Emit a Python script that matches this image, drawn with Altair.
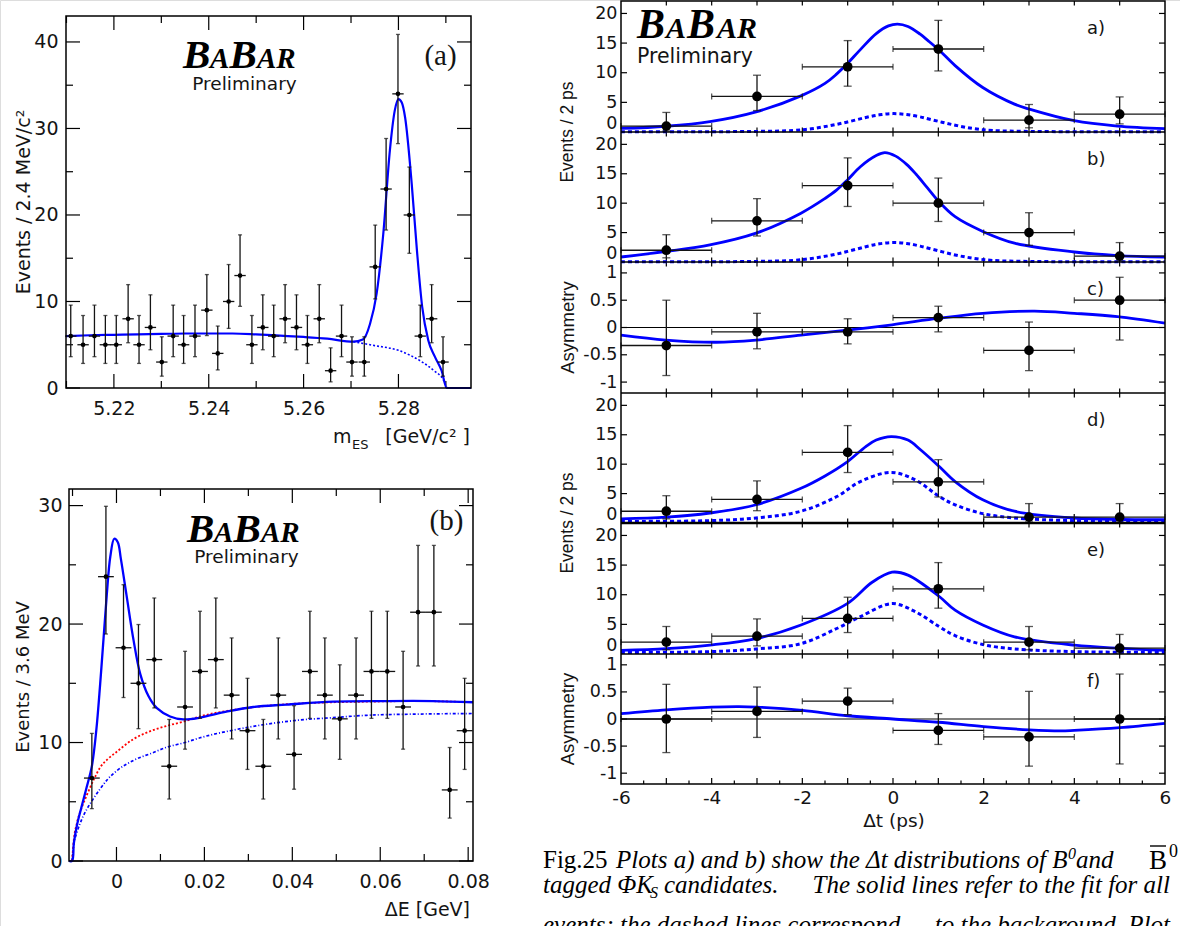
import altair as alt
import pandas as pd

SANS = "DejaVu Sans"
ARIAL = "Liberation Sans"
SERIF = "Liberation Serif"
BLUE = "#0000ff"
RED = "#ff0000"
INK = "#141414"

# ---------------- (a) m_ES distribution ----------------
mes_x = [5.2109, 5.2135, 5.2159, 5.2182, 5.2205, 5.2230, 5.2253, 5.2277, 5.2301, 5.2325,
         5.2347, 5.2371, 5.2396, 5.2419, 5.2442, 5.2466, 5.2491, 5.2514, 5.2537, 5.2561,
         5.2585, 5.2608, 5.2633, 5.2657, 5.2680, 5.2702, 5.2728, 5.2751, 5.2774, 5.2799,
         5.2823, 5.2846, 5.2870, 5.2894]
mes_n = [6, 5, 6, 5, 5, 8, 5, 7, 3, 6, 5, 6, 9, 4, 10, 13, 5, 7, 6, 8,
         7, 5, 8, 2, 6, 3, 3, 14, 23, 34, 20, 6, 8, 3]
mes_half = 0.0012
mes_fit_x = [5.2099, 5.215, 5.22, 5.225, 5.23, 5.235, 5.24, 5.245, 5.25, 5.255,
             5.26, 5.265, 5.2705, 5.2725, 5.274, 5.2754, 5.2768, 5.2782, 5.2792, 5.2800,
             5.2807, 5.2814, 5.2828, 5.2839, 5.285, 5.2863, 5.2877, 5.2891, 5.2902, 5.2953]
mes_fit_y = [6.0, 6.1, 6.15, 6.2, 6.25, 6.3, 6.3, 6.3, 6.2, 6.05,
             5.9, 5.7, 5.35, 5.6, 7.4, 10.9, 17.8, 27.5, 32.0, 33.4,
             33.0, 31.3, 23.6, 15.9, 9.4, 5.5, 3.6, 2.0, 0.0, 0.0]
mes_bkg_x = [5.2705, 5.275, 5.28, 5.285, 5.2875, 5.2895, 5.2902]
mes_bkg_y = [5.35, 4.9, 4.35, 3.0, 2.0, 0.9, 0.0]

# Poisson error bar ends, per count
pois_lo = {1: 0.17, 2: 0.71, 3: 1.37, 4: 2.09, 5: 2.84, 6: 3.62, 7: 4.42, 8: 5.23, 9: 6.06,
           10: 6.89, 11: 7.73, 12: 8.58, 13: 9.44, 14: 10.30, 15: 11.17, 16: 12.04,
           17: 12.92, 18: 13.80, 20: 15.57, 21: 16.46, 23: 18.26, 24: 19.16, 34: 28.25}
pois_hi = {1: 3.30, 2: 4.64, 3: 5.92, 4: 7.16, 5: 8.38, 6: 9.58, 7: 10.77, 8: 11.95, 9: 13.11,
           10: 14.27, 11: 15.42, 12: 16.56, 13: 17.70, 14: 18.83, 15: 19.96, 16: 21.08,
           17: 22.20, 18: 23.32, 20: 25.54, 21: 26.64, 23: 28.84, 24: 29.94, 34: 40.87}

# ---------------- (b) Delta E distribution ----------------
de_x = [-0.0056, -0.0024, 0.0016, 0.0050, 0.0086, 0.0120, 0.0156, 0.0190, 0.0226, 0.0262,
        0.0298, 0.0334, 0.0368, 0.0404, 0.0440, 0.0474, 0.0508, 0.0545, 0.0580, 0.0616,
        0.0652, 0.0686, 0.0722, 0.0758, 0.0792]
de_n = [7, 24, 18, 15, 17, 8, 13, 16, 17, 14, 11, 8, 14, 9, 16, 14, 12, 14, 16, 16,
        13, 21, 21, 6, 11]
de_half = 0.0018
de_fit_x = [-0.0108, -0.0101, -0.0097, -0.0090, -0.0080, -0.0068, -0.0056, -0.0046, -0.0037, -0.0029,
            -0.0022, -0.0014, -0.0005, 0.0003, 0.0010, 0.0023, 0.0039, 0.0054, 0.0073, 0.0092,
            0.0122, 0.0152, 0.0190, 0.0250, 0.0311, 0.0387, 0.0493, 0.0607, 0.0720, 0.0811]
de_fit_y = [0.0, 0.0, 1.5, 3.0, 4.5, 6.2, 8.0, 11.0, 15.0, 19.0,
            22.5, 25.7, 27.2, 26.9, 25.5, 22.4, 18.6, 15.8, 13.9, 12.9,
            12.2, 11.95, 12.1, 12.6, 13.0, 13.2, 13.45, 13.5, 13.5, 13.4]
de_bkg_x = [-0.0101, -0.0097, -0.0090, -0.0078, -0.0067, -0.0050, -0.0037, -0.0020, 0.0, 0.0039,
            0.0080, 0.0114, 0.0156, 0.0190, 0.0266, 0.0342, 0.0417, 0.0493, 0.0569, 0.0683, 0.0811]
de_red_y = [0.0, 1.8, 3.2, 4.6, 5.6, 7.0, 7.9, 8.6, 9.2, 10.3,
            11.0, 11.4, 11.8, 12.2, 12.75, 13.1, 13.3, 13.4, 13.45, 13.5, 13.4]
de_blue_y = [0.0, 1.4, 2.4, 3.6, 4.4, 5.4, 6.1, 6.9, 7.6, 8.5,
             9.1, 9.6, 10.0, 10.4, 11.05, 11.55, 11.9, 12.1, 12.3, 12.4, 12.45]

# ---------------- Delta t panels a) - f) ----------------
dt_x = [-5, -3, -1, 1, 3, 5]
dt_lo = [-6, -4, -2, 0, 2, 4]
dt_hi = [-4, -2, 0, 2, 4, 6]
a_n = [1, 6, 11, 14, 2, 3]
b_n = [2, 7, 13, 10, 5, 1]
d_n = [2, 4, 12, 7, 1, 1]
e_n = [2, 3, 6, 11, 2, 1]
c_val = [-0.33, -0.08, -0.08, 0.18, -0.42, 0.50]
c_lo = [-0.88, -0.39, -0.30, -0.08, -0.79, -0.23]
c_hi = [0.50, 0.26, 0.16, 0.39, 0.10, 0.92]
f_val = [0.0, 0.14, 0.33, -0.21, -0.33, 0.0]
f_lo = [-0.62, -0.34, 0.08, -0.47, -0.87, -0.83]
f_hi = [0.64, 0.59, 0.57, 0.10, 0.51, 0.83]

a_fit_x = [-6, -5, -4.04, -3.02, -2.03, -1.5, -1.24, -1.01, -0.72, -0.37, -0.1, 0.1,
           0.33, 0.6, 0.76, 1.02, 1.37, 1.98, 2.68, 2.99, 4.0, 4.95, 6]
a_fit_y = [0.6, 0.97, 1.75, 3.4, 6.1, 8.2, 9.8, 11.5, 13.9, 16.6, 17.9, 18.2,
           17.8, 16.5, 15.5, 13.8, 11.2, 7.5, 4.7, 3.9, 1.9, 1.0, 0.57]
ab_bkg_x = [-6, -4, -3, -2.2, -1.8, -1.4, -1.0, -0.6, -0.3, 0, 0.3, 0.6, 1.0, 1.4, 1.8, 2.2, 3, 4, 6]
a_bkg_y = [0.03, 0.05, 0.1, 0.25, 0.55, 1.05, 1.7, 2.45, 2.9, 3.1, 2.95, 2.55, 1.8, 1.1, 0.55, 0.25, 0.1, 0.05, 0.03]
b_bkg_y = [0.03, 0.05, 0.1, 0.27, 0.6, 1.1, 1.8, 2.6, 3.1, 3.3, 3.15, 2.7, 1.9, 1.15, 0.6, 0.27, 0.1, 0.05, 0.03]
b_fit_x = [-6, -5, -4.04, -3.02, -2.03, -1.5, -1.24, -1.01, -0.72, -0.37, -0.18,
           0.06, 0.3, 0.5, 0.76, 1.02, 1.37, 1.98, 2.68, 4.0, 4.95, 6]
b_fit_y = [0.85, 1.8, 2.9, 4.9, 8.3, 10.8, 12.25, 13.9, 16.2, 18.1, 18.6,
           18.0, 16.6, 15.0, 12.6, 10.2, 7.7, 5.2, 3.2, 1.7, 1.1, 0.85]
c_fit_x = [-6, -5.01, -3.9, -3.02, -2.03, -1.01, -0.02, 1.02, 1.98, 3.12, 4.0, 4.95, 6]
c_fit_y = [-0.14, -0.23, -0.27, -0.23, -0.14, -0.05, 0.05, 0.17, 0.26, 0.30, 0.26, 0.20, 0.08]
d_fit_x = [-6, -5, -4.04, -3.02, -2.03, -1.5, -1.01, -0.6, -0.37, -0.04, 0.33, 0.6,
           1.02, 1.37, 1.98, 2.68, 4.0, 6]
d_fit_y = [0.7, 1.0, 1.7, 3.1, 5.9, 8.0, 10.4, 13.0, 14.1, 14.7, 14.1, 12.5,
           9.6, 7.05, 3.95, 2.0, 0.85, 0.55]
d_bkg_x = [-6, -4.04, -3.02, -2.03, -1.24, -0.72, -0.04, 0.5, 1.02, 1.37, 1.98, 2.68, 4.0, 6]
d_bkg_y = [0.27, 0.4, 0.85, 2.0, 4.5, 7.05, 8.6, 7.3, 4.5, 3.1, 1.6, 0.85, 0.4, 0.27]
e_fit_x = [-6, -5, -4.04, -3.02, -2.03, -1.01, -0.46, -0.02, 0.33, 1.02, 1.37, 1.98, 2.68, 4.0, 6]
e_fit_y = [0.6, 0.9, 1.5, 2.6, 4.9, 8.5, 12.1, 13.8, 13.3, 9.7, 7.4, 4.9, 2.9, 1.5, 0.6]
e_bkg_x = [-6, -4.04, -3.02, -2.03, -1.24, -0.72, -0.02, 0.5, 1.02, 1.37, 1.98, 2.68, 4.0, 6]
e_bkg_y = [0.27, 0.4, 0.85, 1.75, 4.3, 6.3, 8.5, 7.1, 4.6, 3.1, 1.6, 0.85, 0.4, 0.27]
f_fit_x = [-6, -5, -4, -3.4, -3, -2, -1, 0, 1, 2, 3, 3.7, 4, 5, 6]
f_fit_y = [0.1, 0.17, 0.22, 0.23, 0.22, 0.16, 0.06, 0.0, -0.06, -0.14, -0.2, -0.22, -0.21, -0.16, -0.08]

# tick values
A_xmaj = [5.22, 5.24, 5.26, 5.28]
A_xmin = [5.21, 5.23, 5.25, 5.27, 5.29]
A_ymaj = [0, 10, 20, 30, 40]
A_ymin = [5, 15, 25, 35]
B_xmaj = [0, 0.02, 0.04, 0.06, 0.08]
B_xmin = [-0.01, 0.01, 0.03, 0.05, 0.07]
B_ymaj = [0, 10, 20, 30]
B_ymin = [5, 15, 25]
R_xint = [-5, -4, -3, -2, -1, 0, 1, 2, 3, 4, 5]
R_xhalf = [-5.5, -4.5, -3.5, -2.5, -1.5, -0.5, 0.5, 1.5, 2.5, 3.5, 4.5, 5.5]
R_xlab = [-6, -4, -2, 0, 2, 4, 6]
R_ev = [0, 5, 10, 15, 20]
R_as = [-1, -0.5, 0, 0.5, 1]

# ---------------- layout (pixel boxes) ----------------
AX0, AX1, AY0, AY1 = 66, 471, 16, 388
BX0, BX1, BY0, BY1 = 69, 473, 489, 861
RX0, RX1 = 621, 1165
RB = [1, 132, 262, 393, 523, 654, 784]   # right-panel boundaries
PAGE_H = 926

DUMMY = pd.DataFrame({"k": [0]})


def S(dom, rng):
    return alt.Scale(domain=dom, range=rng, nice=False, zero=False)


def text(s, x, y, size, font=SANS, align="left", baseline="alphabetic", angle=None,
         style="normal", weight="normal", color=INK):
    props = dict(text=s, align=align, baseline=baseline, font=font, fontSize=size,
                 fontStyle=style, fontWeight=weight, color=color)
    if angle is not None:
        props["angle"] = angle
    return alt.Chart(DUMMY).mark_text(**props).encode(x=alt.value(x), y=alt.value(y))


def frame(x0, y0, x1, y1, w=1.5):
    return alt.Chart(DUMMY).mark_rect(fill="transparent", stroke="black", strokeWidth=w).encode(
        x=alt.value(x0), x2=alt.value(x1), y=alt.value(y0), y2=alt.value(y1))


def hline(x0, x1, y, w):
    return alt.Chart(DUMMY).mark_rule(color="black", strokeWidth=w).encode(
        x=alt.value(x0), x2=alt.value(x1), y=alt.value(y))


def yaxis(offset, values, size, pad, flush=False):
    return alt.Axis(orient="left", offset=offset, values=values, labelFont=SANS,
                    labelFontSize=size, labelColor=INK, labelPadding=pad, ticks=False,
                    tickSize=0, domain=False, grid=False, title=None, labelFlush=flush,
                    labelOverlap=False, labelExpr="'' + datum.value")


def xaxis(offset, values, size, pad):
    return alt.Axis(orient="bottom", offset=offset, values=values, labelFont=SANS,
                    labelFontSize=size, labelColor=INK, labelPadding=pad, ticks=False,
                    tickSize=0, domain=False, grid=False, title=None, labelFlush=False,
                    labelOverlap=False, labelExpr="'' + datum.value")


def xticks(rows, sx, axis=None):
    df = pd.DataFrame(rows, columns=["v", "p1", "p2"])
    return alt.Chart(df).mark_rule(color="black", strokeWidth=1.2).encode(
        x=alt.X("v:Q", scale=sx, axis=axis),
        y=alt.Y("p1:Q", scale=None, axis=None), y2="p2:Q")


def yticks(rows, sy, axis=None):
    df = pd.DataFrame(rows, columns=["v", "p1", "p2"])
    return alt.Chart(df).mark_rule(color="black", strokeWidth=1.2).encode(
        y=alt.Y("v:Q", scale=sy, axis=axis),
        x=alt.X("p1:Q", scale=None, axis=None), x2="p2:Q")


def curve(xs, ys, sx, sy, color, width, dash=None, interp="catmull-rom"):
    df = pd.DataFrame({"x": xs, "y": ys})
    props = dict(color=color, strokeWidth=width, interpolate=interp)
    if dash:
        props["strokeDash"] = dash
    return alt.Chart(df).mark_line(**props).encode(
        x=alt.X("x:Q", scale=sx, axis=None), y=alt.Y("y:Q", scale=sy, axis=None))


def data_points(df, sx, sy, dot, cap, hcap, lw=1.3):
    base = alt.Chart(df)
    X = alt.X("x:Q", scale=sx, axis=None)
    out = [
        base.mark_rule(color=INK, strokeWidth=lw).encode(
            x=X, y=alt.Y("lo:Q", scale=sy, axis=None), y2="hi:Q"),
        base.mark_rule(color=INK, strokeWidth=lw).encode(
            x=alt.X("xl:Q", scale=sx, axis=None), x2="xr:Q", y=alt.Y("v:Q", scale=sy, axis=None)),
    ]
    if cap:
        out.append(base.transform_fold(["lo", "hi"], as_=["end", "ey"]).mark_tick(
            orient="horizontal", size=cap, thickness=lw, color=INK).encode(
            x=X, y=alt.Y("ey:Q", scale=sy, axis=None)))
    if hcap:
        out.append(base.transform_fold(["xl", "xr"], as_=["end", "ex"]).mark_tick(
            orient="vertical", size=hcap, thickness=lw, color=INK).encode(
            x=alt.X("ex:Q", scale=sx, axis=None), y=alt.Y("v:Q", scale=sy, axis=None)))
    out.append(base.mark_circle(size=dot, color="black", opacity=1).encode(
        x=X, y=alt.Y("v:Q", scale=sy, axis=None)))
    return out


def count_df(xs, ns, xl, xr):
    return pd.DataFrame({"x": xs, "v": ns, "lo": [pois_lo[n] for n in ns],
                         "hi": [pois_hi[n] for n in ns], "xl": xl, "xr": xr})


def babar(x, y, big, small, steps):
    parts = []
    letters = [("B", big), ("A", small), ("B", big), ("AR", small)]
    for (s, size), dx in zip(letters, steps):
        parts.append(text(s, x + dx, y, size, font=SERIF, style="italic", weight="bold", color="#000000"))
    return parts


layers = []

# ======================= panel (a): m_ES =======================
sxA = S([5.2099, 5.2953], [AX0, AX1])
syA = S([0, 43], [AY1, AY0])
rows = []
for v in A_xmaj:
    rows += [(v, AY0, AY0 + 14), (v, AY1 - 14, AY1)]
for v in A_xmin:
    rows += [(v, AY0, AY0 + 7), (v, AY1 - 7, AY1)]
layers.append(xticks(rows, sxA, xaxis(AY1 - PAGE_H, A_xmaj, 19, 11)))
rows = []
for v in A_ymaj:
    rows += [(v, AX0, AX0 + 14), (v, AX1 - 14, AX1)]
for v in A_ymin:
    rows += [(v, AX0, AX0 + 7), (v, AX1 - 7, AX1)]
layers.append(yticks(rows, syA, yaxis(-AX0, A_ymaj, 19, 8)))
layers.append(curve(mes_bkg_x, mes_bkg_y, sxA, syA, BLUE, 1.6, [2, 2], "monotone"))
layers.append(curve(mes_fit_x, mes_fit_y, sxA, syA, BLUE, 2.2, None, "monotone"))
layers += data_points(count_df(mes_x, mes_n, [x - mes_half for x in mes_x], [x + mes_half for x in mes_x]),
                      sxA, syA, 22, 4, 0)
layers.append(frame(AX0, AY0, AX1, AY1))
layers += babar(183, 68, 41, 29, [0, 27, 46.5, 74])
layers.append(text("Preliminary", 244.5, 90, 18.5, align="center"))
layers.append(text("(a)", 440.5, 65, 29, font=SERIF, align="center"))
layers.append(text("Events / 2.4 MeV/c²", 24, 202, 19, align="center", baseline="middle", angle=270))
layers.append(text("m", 333, 443, 19))
layers.append(text("ES", 352, 449, 13))
layers.append(text("[GeV/c² ]", 470, 443, 19, align="right"))

# ======================= panel (b): Delta E =======================
sxB = S([-0.0108, 0.0811], [BX0, BX1])
syB = S([0, 31.4], [BY1, BY0])
rows = []
for v in B_xmaj:
    rows += [(v, BY0, BY0 + 14), (v, BY1 - 14, BY1)]
for v in B_xmin:
    rows += [(v, BY0, BY0 + 7), (v, BY1 - 7, BY1)]
layers.append(xticks(rows, sxB, xaxis(BY1 - PAGE_H, B_xmaj, 19, 11)))
rows = []
for v in B_ymaj:
    rows += [(v, BX0, BX0 + 14), (v, BX1 - 14, BX1)]
for v in B_ymin:
    rows += [(v, BX0, BX0 + 7), (v, BX1 - 7, BX1)]
layers.append(yticks(rows, syB, yaxis(-BX0, B_ymaj, 19, 7)))
layers.append(curve(de_bkg_x, de_blue_y, sxB, syB, BLUE, 1.7, [3, 2, 1, 2], "monotone"))
layers.append(curve(de_bkg_x, de_red_y, sxB, syB, RED, 1.8, [2, 2], "monotone"))
layers.append(curve(de_fit_x, de_fit_y, sxB, syB, BLUE, 2.3, None, "catmull-rom"))
layers += data_points(count_df(de_x, de_n, [x - de_half for x in de_x], [x + de_half for x in de_x]),
                      sxB, syB, 22, 4, 0)
layers.append(frame(BX0, BY0, BX1, BY1))
layers += babar(187, 541.7, 41, 29, [0, 27, 46.5, 74])
layers.append(text("Preliminary", 246.5, 563.3, 18.5, align="center"))
layers.append(text("(b)", 446.5, 530, 29, font=SERIF, align="center"))
layers.append(text("Events / 3.6 MeV", 24, 677, 18, align="center", baseline="middle", angle=270))
layers.append(text("ΔE [GeV]", 470, 916, 19, align="right"))

# ======================= right: Delta t panels =======================
sxR = S([-6, 6], [RX0, RX1])
rows = []
for v in R_xint:
    rows.append((v, RB[0], RB[0] + 4.5))
    for b in RB[1:-1]:
        rows.append((v, b - 4.5, b + 4.5))
    rows.append((v, RB[-1] - 6, RB[-1]))
for v in R_xhalf:
    rows.append((v, RB[-1] - 3.5, RB[-1]))
layers.append(xticks(rows, sxR, xaxis(RB[-1] - PAGE_H, R_xlab, 18.5, 4)))

panels = [
    ("a)", "count", a_n, a_fit_x, a_fit_y, ab_bkg_x, a_bkg_y),
    ("b)", "count", b_n, b_fit_x, b_fit_y, ab_bkg_x, b_bkg_y),
    ("c)", "asym", (c_val, c_lo, c_hi), c_fit_x, c_fit_y, None, None),
    ("d)", "count", d_n, d_fit_x, d_fit_y, d_bkg_x, d_bkg_y),
    ("e)", "count", e_n, e_fit_x, e_fit_y, e_bkg_x, e_bkg_y),
    ("f)", "asym", (f_val, f_lo, f_hi), f_fit_x, f_fit_y, None, None),
]
for i, (lab, kind, vals, fx, fy, bx, by) in enumerate(panels):
    top, bot = RB[i], RB[i + 1]
    if kind == "count":
        sy = S([0, 22.1], [bot, top])
        tvals, tick_vals, flush = R_ev, [5, 10, 15, 20], True
    else:
        sy = S([-1.2, 1.2], [bot, top])
        tvals, tick_vals, flush = R_as, R_as, False
    rows = []
    for v in tick_vals:
        rows += [(v, RX0, RX0 + 6), (v, RX1 - 6, RX1)]
    layers.append(yticks(rows, sy, yaxis(-RX0, tvals, 17.5, 4, flush)))
    if kind == "asym":
        layers.append(alt.Chart(pd.DataFrame({"v": [0]})).mark_rule(color="black", strokeWidth=1.2).encode(
            y=alt.Y("v:Q", scale=sy, axis=None), x=alt.value(RX0), x2=alt.value(RX1)))
        df = pd.DataFrame({"x": dt_x, "v": vals[0], "lo": vals[1], "hi": vals[2], "xl": dt_lo, "xr": dt_hi})
    else:
        layers.append(curve(bx, by, sxR, sy, BLUE, 3, [4, 3]))
        df = count_df(dt_x, vals, dt_lo, dt_hi)
    layers.append(curve(fx, fy, sxR, sy, BLUE, 2.8))
    layers += data_points(df, sxR, sy, 95, 8, 6)
    layers.append(text(lab, 1087, top + 33, 18))

layers.append(frame(RX0, RB[0], RX1, RB[-1]))
for b in RB[1:-1]:
    layers.append(hline(RX0, RX1, b, 2.6 if b == 523 else 1.5))
layers += babar(637, 38, 42, 30, [0, 29, 50, 80])
layers.append(text("Preliminary", 637, 63, 20.5))
for yc in (132, 523):
    layers.append(text("Events / 2 ps", 568, yc, 17.5, font=ARIAL, align="center", baseline="middle", angle=270))
for yc in (327.5, 719):
    layers.append(text("Asymmetry", 568, yc, 18.5, font=ARIAL, align="center", baseline="middle", angle=270))
layers.append(text("Δt (ps)", 894, 827, 18.5, align="center"))

# ======================= caption =======================
L1, L2, L3 = 868, 893, 933
layers.append(text("Fig.25", 543, L1, 25, font=SERIF, color="#000000"))
layers.append(text("Plots a) and b) show the Δt distributions of B", 616, L1, 25, font=SERIF, style="italic", color="#000000"))
layers.append(text("0", 1068, L1 - 9, 16, font=SERIF, style="italic", color="#000000"))
layers.append(text("and", 1076, L1, 25, font=SERIF, style="italic", color="#000000"))
layers.append(text("B", 1149, L1 + 1, 27, font=SERIF, color="#000000"))
layers.append(alt.Chart(DUMMY).mark_rule(color="black", strokeWidth=1.4).encode(
    x=alt.value(1150), x2=alt.value(1166), y=alt.value(846)))
layers.append(text("0", 1169, L1 - 11, 18, font=SERIF, color="#000000"))
layers.append(text("tagged ΦK", 543, L2, 25, font=SERIF, style="italic", color="#000000"))
layers.append(text("S", 650, L2 + 5, 16, font=SERIF, style="italic", color="#000000"))
layers.append(text("candidates.", 664, L2, 25, font=SERIF, style="italic", color="#000000"))
layers.append(text("The solid lines refer to the fit for all", 1170, L2, 25, font=SERIF, style="italic",
                   align="right", color="#000000"))
layers.append(text("events; the dashed lines correspond", 543, L3, 25, font=SERIF, style="italic", color="#000000"))
layers.append(text("to the background. Plot", 1170, L3, 25, font=SERIF, style="italic",
                   align="right", color="#000000"))

chart = alt.layer(*layers).resolve_scale(x="independent", y="independent").properties(
    width=1180, height=926, autosize=alt.AutoSizeParams(type="none"), padding=0
).configure_view(strokeWidth=0).configure(background="white")

chart.save("out.html", embed_options={"renderer": "svg", "actions": False})
